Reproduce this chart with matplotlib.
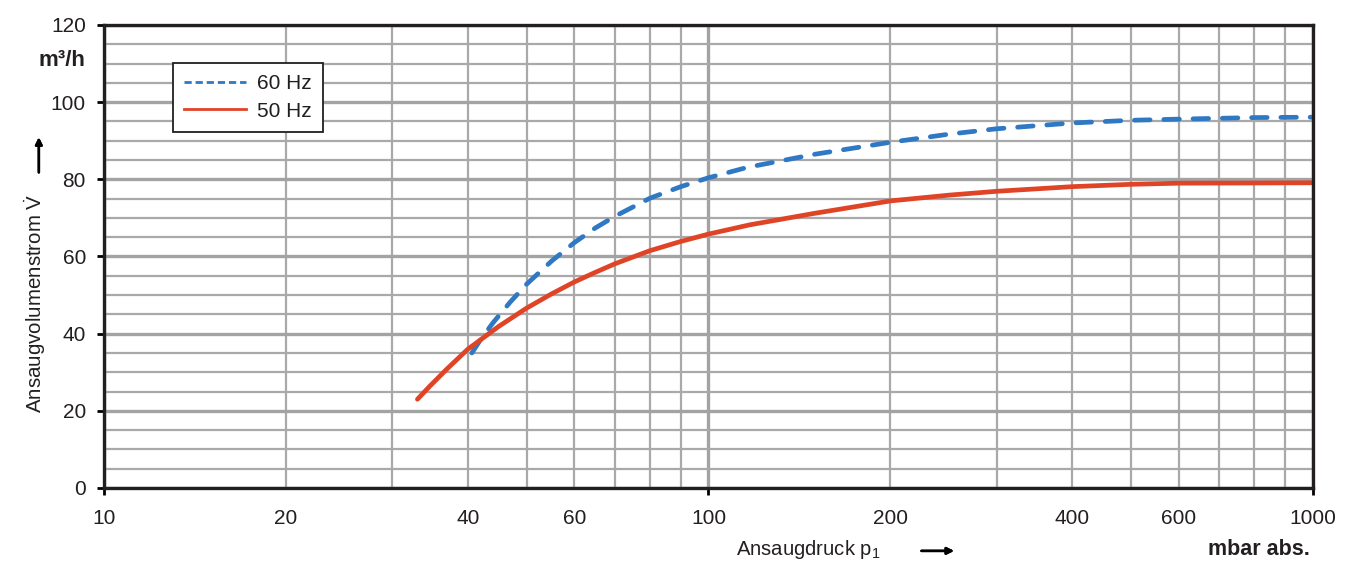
import matplotlib.pyplot as plt
import numpy as np
from matplotlib.lines import Line2D
from matplotlib.ticker import FixedLocator, FuncFormatter, NullFormatter

plt.rcParams['font.family'] = ['Liberation Sans', 'DejaVu Sans']
plt.rcParams['mathtext.fontset'] = 'custom'
plt.rcParams['mathtext.rm'] = 'Liberation Sans'
plt.rcParams['mathtext.it'] = 'Liberation Sans:italic'
plt.rcParams['mathtext.bf'] = 'Liberation Sans:bold'

# values
p_60 = [40.6, 42, 44, 47, 50, 55, 60, 65, 70, 80, 90, 100, 116, 150, 200, 250, 300, 400, 500, 600, 800, 1000]
v_60 = [35.0, 38.5, 42.8, 48.2, 52.8, 58.8, 63.6, 67.4, 70.4, 75.1, 78.1, 80.4, 83.1, 86.5, 89.6, 91.7, 93.1, 94.6, 95.3, 95.6, 96.0, 96.1]

p_50 = [33.0, 34.6, 36.9, 40, 45, 50, 55, 60, 65, 70, 80, 90, 100, 117, 150, 200, 250, 300, 400, 500, 600, 800, 1000]
v_50 = [23.0, 26.4, 30.8, 36.0, 41.9, 46.6, 50.3, 53.4, 55.9, 58.1, 61.5, 63.9, 65.8, 68.2, 71.2, 74.4, 75.9, 76.9, 78.1, 78.7, 79.0, 79.05, 79.1]

x_labels = [10, 20, 40, 60, 100, 200, 400, 600, 1000]
x_minor = [20, 30, 40, 50, 60, 70, 80, 90, 200, 300, 400, 500, 600, 700, 800, 900]

blue = '#2f78c4'
red = '#e04427'
grid_c = '#a9a9aa'
ink = '#231f20'

fig = plt.figure(figsize=(13.63, 5.65), dpi=100)
ax = fig.add_axes([0.0763, 0.1363, 0.8870, 0.8195])

ax.set_xscale('log')
ax.set_xlim(10, 1000)
ax.set_ylim(0, 120)

ax.plot(p_60, v_60, color=blue, lw=3.4, linestyle=(0, (3.3, 2.9)),
        dash_capstyle='round', solid_capstyle='round', solid_joinstyle='round', zorder=3)
ax.plot(p_50, v_50, color=red, lw=3.4, solid_capstyle='round',
        solid_joinstyle='round', zorder=3)

# x ticks
ax.xaxis.set_major_locator(FixedLocator([10, 100, 1000]))
ax.xaxis.set_major_formatter(FuncFormatter(lambda v, pos: '%d' % round(v)))
ax.xaxis.set_minor_locator(FixedLocator(x_minor))
ax.xaxis.set_minor_formatter(FuncFormatter(
    lambda v, pos: '%d' % round(v) if round(v) in x_labels else ''))
ax.tick_params(axis='x', which='major', length=5, width=2, pad=10, labelsize=15)
ax.tick_params(axis='x', which='minor', length=0, pad=15, labelsize=15)

# y ticks
ax.set_yticks(np.arange(0, 121, 20))
ax.set_yticks(np.arange(0, 121, 5), minor=True)
ax.yaxis.set_minor_formatter(NullFormatter())
ax.tick_params(axis='y', which='major', length=5, width=2, pad=8, labelsize=15)
ax.tick_params(axis='y', which='minor', length=0)
for lab in ax.get_xticklabels() + ax.get_xticklabels(minor=True) + ax.get_yticklabels():
    lab.set_color(ink)

ax.grid(True, which='minor', color=grid_c, lw=1.6, zorder=1)
ax.grid(True, which='major', color='#a3a3a4', lw=2.4, zorder=1)
ax.set_axisbelow(True)

for s in ax.spines.values():
    s.set_linewidth(2.4)
    s.set_color(ink)
    s.set_zorder(4)

handles = [Line2D([], [], color=blue, lw=2, linestyle=(0, (2.6, 1.4))),
           Line2D([], [], color=red, lw=2)]
leg = ax.legend(handles, ['60 Hz', '50 Hz'], loc='upper left',
                bbox_to_anchor=(0.057, 0.918), borderaxespad=0,
                fontsize=15, frameon=True, fancybox=False, framealpha=1,
                handlelength=2.95, handletextpad=0.55, labelspacing=0.4,
                borderpad=0.55)
leg.get_frame().set_edgecolor(ink)
leg.get_frame().set_linewidth(1.3)
leg.set_zorder(5)
for t in leg.get_texts():
    t.set_color(ink)

# axis labels as figure texts
fig.text(0.0624, 0.893, 'm³/h', ha='right', va='center', fontsize=16,
         fontweight='bold', color=ink)
fig.text(0.026, 0.463, r'Ansaugvolumenstrom $\dot{\mathrm{V}}$', rotation=90,
         ha='center', va='center', fontsize=14.8, color=ink)
fig.add_artist(plt.annotate('', xy=(0.0285, 0.762), xytext=(0.0285, 0.690),
                            xycoords='figure fraction',
                            arrowprops=dict(arrowstyle='-|>', lw=1.8,
                                            color='black', mutation_scale=10)))

fig.text(0.540, 0.027, r'Ansaugdruck p$_1$', ha='left', va='center',
         fontsize=14.6, color=ink)
fig.add_artist(plt.annotate('', xy=(0.702, 0.025), xytext=(0.674, 0.025),
                            xycoords='figure fraction',
                            arrowprops=dict(arrowstyle='-|>', lw=1.8,
                                            color='black', mutation_scale=10)))
fig.text(0.961, 0.027, 'mbar abs.', ha='right', va='center', fontsize=15.5,
         fontweight='bold', color=ink)

plt.savefig('out.png', dpi=100)
